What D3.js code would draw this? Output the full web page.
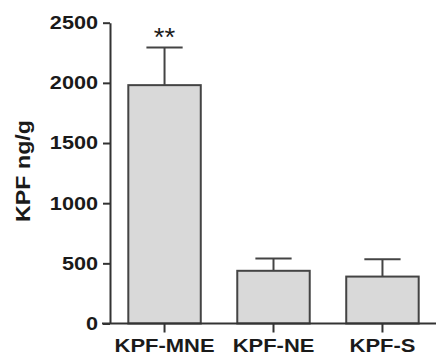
<!DOCTYPE html>
<html>
<head>
<meta charset="utf-8">
<script src="https://cdn.jsdelivr.net/npm/d3@7"></script>
<style>
  body { margin: 0; background: #fff; }
  .axis path, .axis line { stroke: #333; stroke-width: 2px; }
  .axis text { font-family: "Liberation Sans", Arial, sans-serif; font-weight: bold; fill: #1a1a1a; }
</style>
</head>
<body>
<div id="chart"></div>
<script>
const groups = ["KPF-MNE", "KPF-NE", "KPF-S"];
const means = [1981, 438, 390];
const errors = [313, 103, 143];
const marks = ["**", "", ""];
const yTicks = [0, 500, 1000, 1500, 2000, 2500];

const W = 436, H = 356;
const margin = { top: 23, right: 0, bottom: 33, left: 110 };

// the original lettering is a bit wider than Arial, stretch it
function widen(sel, k) {
  sel.each(function() {
    const len = this.getComputedTextLength();
    d3.select(this).attr("textLength", len * k).attr("lengthAdjust", "spacingAndGlyphs");
  });
}

const svg = d3.select("#chart").append("svg")
  .attr("width", W).attr("height", H);

const x = d3.scaleBand().domain(groups)
  .range([margin.left, 437])
  .paddingInner(0.335).paddingOuter(0.168);
const y = d3.scaleLinear().domain([0, 2500]).range([323.5, 22.7]);

// bars
svg.selectAll(".bar").data(groups).enter().append("rect")
  .attr("class", "bar")
  .attr("x", d => x(d))
  .attr("y", (d, i) => y(means[i]))
  .attr("width", x.bandwidth())
  .attr("height", (d, i) => y(0) - y(means[i]))
  .attr("fill", "#d9d9d9")
  .attr("stroke", "#444")
  .attr("stroke-width", 2);

// error bars (upper only)
const cap = x.bandwidth() / 4;
groups.forEach((g, i) => {
  const cx = x(g) + x.bandwidth() / 2;
  svg.append("line")
    .attr("x1", cx).attr("x2", cx)
    .attr("y1", y(means[i])).attr("y2", y(means[i] + errors[i]))
    .attr("stroke", "#444").attr("stroke-width", 2);
  svg.append("line")
    .attr("x1", cx - cap).attr("x2", cx + cap)
    .attr("y1", y(means[i] + errors[i])).attr("y2", y(means[i] + errors[i]))
    .attr("stroke", "#444").attr("stroke-width", 2);
  if (marks[i]) {
    svg.append("text")
      .attr("x", cx).attr("y", y(means[i] + errors[i]) - 1)
      .attr("text-anchor", "middle")
      .style("font-family", "Liberation Sans, Arial, sans-serif")
      .style("font-size", "25px")
      .attr("fill", "#1a1a1a")
      .text(marks[i])
      .call(widen, 1.1);
  }
});

// axes
svg.append("g").attr("class", "axis")
  .attr("transform", `translate(${margin.left},0)`)
  .call(d3.axisLeft(y).tickValues(yTicks).tickFormat(d3.format("d"))
    .tickSize(7).tickSizeOuter(0).tickPadding(5))
  .selectAll("text").style("font-size", "18.5px").call(widen, 1.17);

svg.append("g").attr("class", "axis")
  .attr("transform", `translate(0,${y(0)})`)
  .call(d3.axisBottom(x).tickSize(9).tickSizeOuter(0).tickPadding(7))
  .call(g => g.select(".domain").attr("d", `M${margin.left - 8},0H436`))
  .selectAll("text").style("font-size", "18px").call(widen, 1.22);

// y title
svg.append("text")
  .attr("transform", "translate(30,171) rotate(-90)")
  .attr("text-anchor", "middle")
  .style("font-family", "Liberation Sans, Arial, sans-serif")
  .style("font-weight", "bold").style("font-size", "20px")
  .attr("fill", "#1a1a1a")
  .text("KPF ng/g")
  .call(widen, 1.16);
</script>
</body>
</html>
